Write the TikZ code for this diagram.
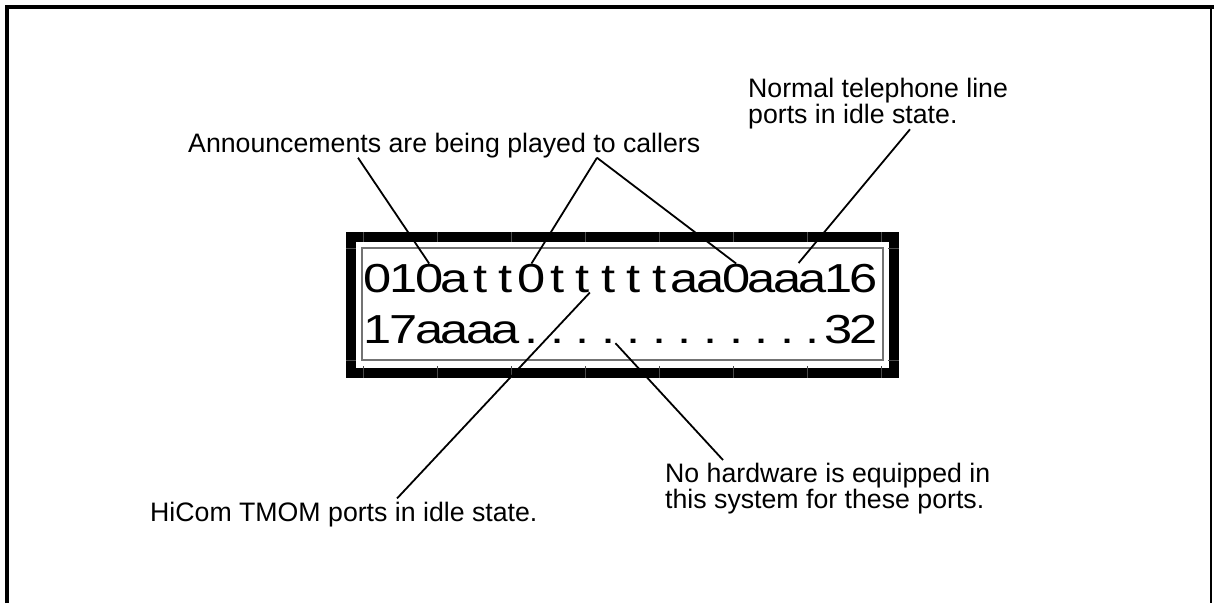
\documentclass[tikz,border=0pt]{standalone}
\usepackage{fontspec}
\setmainfont{Liberation Sans}
\usepackage{graphicx}
\usepackage{tikz}
\definecolor{lcdgray}{rgb}{0.45,0.45,0.45}
\definecolor{seamgray}{rgb}{0.3,0.3,0.3}
\newcommand{\lcdchar}[1]{\scalebox{1.25}[1]{#1}}
\tikzset{
	note/.style={font=\fontsize{26.7}{26}\selectfont, inner sep=0pt, align=left},
	lcd/.style={font=\fontsize{40.5}{40}\selectfont, inner sep=0pt, anchor=base},
	lead/.style={line width=1.8pt},
	seam/.style={seamgray, line width=0.6pt}
}
\begin{document}
\begin{tikzpicture}[x=1pt,y=-1pt]
			\useasboundingbox (0,0) rectangle (1214,603);
			\draw[line width=4pt] (7,603) -- (7,7) -- (1214,7);
			\draw[line width=2pt] (1210.5,7) -- (1210.5,603);
			\draw[line width=10pt] (351,237) rectangle (894,373);
			\foreach \x in {363,437,...,881}
				\draw[seam] (\x,232) -- (\x,242) (\x,366) -- (\x,378);
			\foreach \y in {248,360}
				\draw[seam] (346,\y) -- (356,\y) (888,\y) -- (899,\y);
			\draw[lcdgray, line width=1.2pt] (362,248) rectangle (883,360);
			\foreach \c [count=\i] in {0,1,0,a,t,t,0,t,t,t,t,t,a,a,0,a,a,a,1,6}
				\node[lcd] (t\i) at ({378+25.58*(\i-1)},292) {\lcdchar{\c}};
			\foreach \c [count=\i] in {1,7,a,a,a,a,.,.,.,.,.,.,.,.,.,.,.,.,3,2}
				\node[lcd] (b\i) at ({378+25.58*(\i-1)},343) {\lcdchar{\c}};
			\node[note, anchor=base west] (ann) at (188,152) {Announcements are being played to callers};
			\node[note, anchor=north west] (tel) at (748,78) {Normal telephone line\\ports in idle state.};
			\node[note, anchor=base west] (hicom) at (150,521) {HiCom TMOM ports in idle state.};
			\node[note, anchor=north west] (hw) at (665,463) {No hardware is equipped in\\this system for these ports.};
			\draw[lead] ([xshift=170pt]ann.south west) -- (t3.north);
			\draw[lead] ([xshift=409pt]ann.south west) -- (t7.north);
			\draw[lead] ([xshift=409pt]ann.south west) -- (t15.north);
			\draw[lead] ([xshift=162pt]tel.south west) -- ([yshift=7pt]t18.north west);
			\draw[lead] ([xshift=247pt,yshift=3pt]hicom.north west) -- (t9.south east);
			\draw[lead] ([xshift=58pt,yshift=3pt]hw.north west) -- (b10.south east);
\end{tikzpicture}
\end{document}
